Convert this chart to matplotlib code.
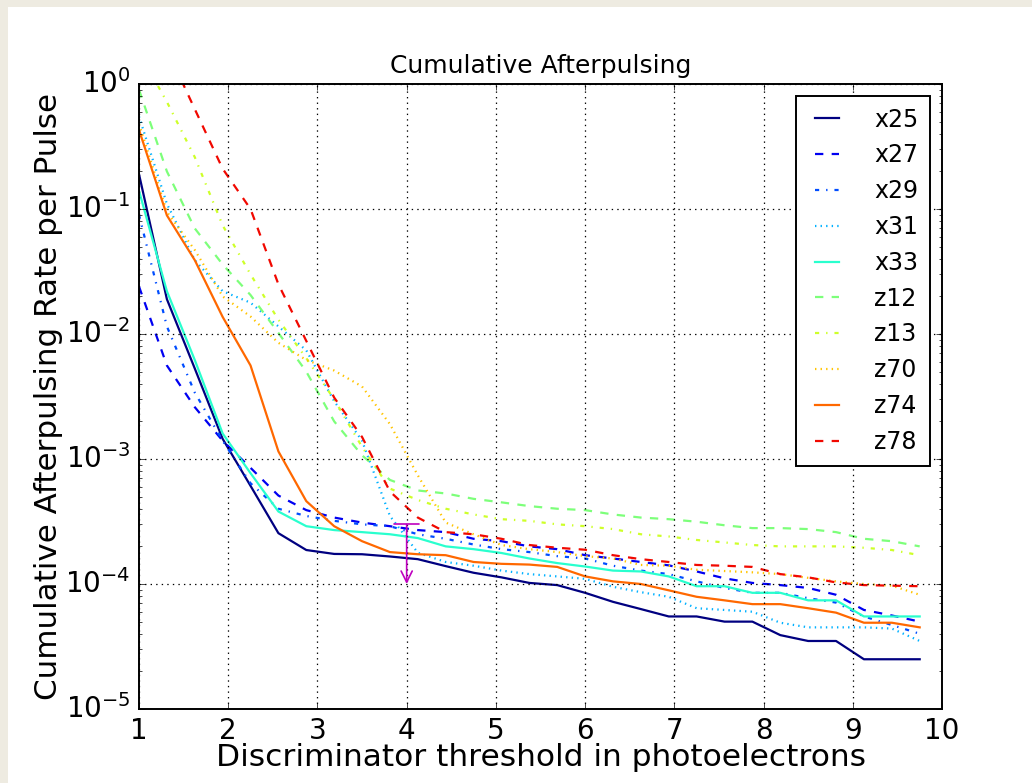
import matplotlib
matplotlib.use("Agg")
from matplotlib import pyplot as plt
from matplotlib.patches import Rectangle
from matplotlib import cm

# Soglie (fotoelettroni)
soglie = [1.0, 1.3125, 1.625, 1.9375, 2.25, 2.5625, 2.875, 3.1875, 3.5, 3.8125,
          4.125, 4.4375, 4.75, 5.0625, 5.375, 5.6875, 6.0, 6.3125, 6.625, 6.9375,
          7.25, 7.5625, 7.875, 8.1875, 8.5, 8.8125, 9.125, 9.4375, 9.75]

nomi = ["x25", "x27", "x29", "x31", "x33", "z12", "z13", "z70", "z74", "z78"]

x25 = [0.19, 0.019, 5.3e-3, 1.45e-3, 6.1e-4, 2.55e-4, 1.87e-4, 1.74e-4, 1.73e-4, 1.66e-4,
       1.58e-4, 1.39e-4, 1.23e-4, 1.13e-4, 1.02e-4, 9.8e-5, 8.5e-5, 7.2e-5, 6.3e-5, 5.5e-5,
       5.5e-5, 5.0e-5, 5.0e-5, 3.9e-5, 3.5e-5, 3.5e-5, 2.5e-5, 2.5e-5, 2.5e-5]
x27 = [0.024, 5.6e-3, 2.6e-3, 1.4e-3, 8.5e-4, 5.1e-4, 3.9e-4, 3.4e-4, 3.1e-4, 2.9e-4,
       2.7e-4, 2.6e-4, 2.3e-4, 2.2e-4, 2.0e-4, 1.9e-4, 1.7e-4, 1.6e-4, 1.5e-4, 1.41e-4,
       1.26e-4, 1.11e-4, 1.02e-4, 9.8e-5, 9.3e-5, 8.2e-5, 6.2e-5, 5.6e-5, 5.0e-5]
x29 = [0.09, 0.0115, 3.4e-3, 1.4e-3, 6.4e-4, 4.0e-4, 3.5e-4, 3.2e-4, 3.0e-4, 2.9e-4,
       2.5e-4, 2.3e-4, 2.07e-4, 1.9e-4, 1.8e-4, 1.67e-4, 1.6e-4, 1.4e-4, 1.28e-4, 1.2e-4,
       1.05e-4, 9.3e-5, 8.5e-5, 8.5e-5, 7.7e-5, 7.1e-5, 5.5e-5, 4.7e-5, 4.0e-5]
x31 = [0.55, 0.11, 0.039, 0.022, 0.0178, 0.0115, 7.4e-3, 2.9e-3, 1.4e-3, 3.5e-4,
       1.78e-4, 1.5e-4, 1.4e-4, 1.28e-4, 1.2e-4, 1.15e-4, 1.1e-4, 9.5e-5, 8.6e-5, 7.9e-5,
       6.4e-5, 6.2e-5, 6.0e-5, 4.9e-5, 4.5e-5, 4.5e-5, 4.5e-5, 4.4e-5, 3.5e-5]
x33 = [0.14, 0.022, 6.2e-3, 1.6e-3, 7.7e-4, 3.8e-4, 2.9e-4, 2.7e-4, 2.6e-4, 2.5e-4,
       2.33e-4, 2.0e-4, 1.9e-4, 1.77e-4, 1.6e-4, 1.47e-4, 1.38e-4, 1.28e-4, 1.26e-4, 1.15e-4,
       9.6e-5, 9.6e-5, 8.5e-5, 8.5e-5, 7.4e-5, 7.4e-5, 5.5e-5, 5.5e-5, 5.5e-5]
z12 = [0.9, 0.2, 0.07, 0.036, 0.0205, 0.0102, 5.0e-3, 2.0e-3, 1.07e-3, 6.8e-4,
       5.6e-4, 5.3e-4, 4.8e-4, 4.5e-4, 4.2e-4, 4.0e-4, 3.9e-4, 3.6e-4, 3.4e-4, 3.3e-4,
       3.15e-4, 2.95e-4, 2.8e-4, 2.8e-4, 2.75e-4, 2.6e-4, 2.3e-4, 2.2e-4, 2.0e-4]
z13 = [1.8, 0.72, 0.26, 0.074, 0.03, 0.013, 6.4e-3, 3.0e-3, 1.25e-3, 5.8e-4,
       4.7e-4, 4.0e-4, 3.6e-4, 3.3e-4, 3.2e-4, 3.0e-4, 2.9e-4, 2.75e-4, 2.5e-4, 2.4e-4,
       2.25e-4, 2.15e-4, 2.05e-4, 2.0e-4, 2.0e-4, 2.0e-4, 1.95e-4, 1.87e-4, 1.7e-4]
z70 = [0.48, 0.095, 0.047, 0.02, 0.0138, 8.5e-3, 6.2e-3, 5.1e-3, 3.8e-3, 1.9e-3,
       7.4e-4, 3.1e-4, 2.5e-4, 2.05e-4, 1.9e-4, 1.8e-4, 1.67e-4, 1.6e-4, 1.42e-4, 1.4e-4,
       1.3e-4, 1.27e-4, 1.24e-4, 1.2e-4, 1.12e-4, 1.05e-4, 1.0e-4, 9.7e-5, 8.2e-5]
z74 = [0.43, 0.089, 0.039, 0.0137, 5.6e-3, 1.15e-3, 4.6e-4, 2.9e-4, 2.2e-4, 1.8e-4,
       1.73e-4, 1.7e-4, 1.5e-4, 1.45e-4, 1.43e-4, 1.37e-4, 1.15e-4, 1.05e-4, 1.0e-4, 8.9e-5,
       7.9e-5, 7.4e-5, 6.9e-5, 6.9e-5, 6.4e-5, 5.9e-5, 4.9e-5, 4.9e-5, 4.5e-5]
z78 = [4.0, 1.9, 0.63, 0.21, 0.1, 0.025, 8.8e-3, 3.1e-3, 1.5e-3, 5.5e-4,
       3.4e-4, 2.6e-4, 2.5e-4, 2.3e-4, 2.05e-4, 1.95e-4, 1.88e-4, 1.7e-4, 1.58e-4, 1.5e-4,
       1.42e-4, 1.4e-4, 1.37e-4, 1.2e-4, 1.13e-4, 1.03e-4, 9.8e-5, 9.7e-5, 9.6e-5]

serie = [x25, x27, x29, x31, x33, z12, z13, z70, z74, z78]

# limite superiore indicato con la freccia
freccia_x = 4.0
freccia_da = 3e-4
freccia_a = 1e-4

plt.style.use("classic")
plt.rcParams["mathtext.fontset"] = "dejavusans"
plt.rcParams["font.family"] = "DejaVu Sans"

fig = plt.figure(figsize=(10.32, 7.83), dpi=100, facecolor="#eeebe1")
fig.patches.append(Rectangle((8 / 1032, 0), 1, 1 - 7 / 783, transform=fig.transFigure,
                             facecolor="white", edgecolor="none", zorder=-1))
ax = fig.add_axes([139 / 1032, 1 - 709 / 783, 803 / 1032, 625 / 783])

stili = ["-", "--", "-.", ":"]
for i, (nome, valori) in enumerate(zip(nomi, serie)):
    ax.plot(soglie, valori, linestyle=stili[i % 4], color=cm.jet(i / 10.0),
            linewidth=1.6, label=nome)

ax.annotate("", xy=(freccia_x, freccia_a), xytext=(freccia_x, freccia_da),
            arrowprops=dict(arrowstyle="]->,widthA=0.45,lengthA=0", color="m",
                            linewidth=1.2, shrinkA=0, shrinkB=0, mutation_scale=20))

ax.set_yscale("log")
ax.set_xlim(1, 10)
ax.set_ylim(1e-5, 1)
ax.set_xticks(range(1, 11))
ax.grid(True, color="k", linestyle=":", linewidth=0.9)
ax.tick_params(labelsize=20, pad=6)
for s in ax.spines.values():
    s.set_linewidth(1.4)

ax.set_title("Cumulative Afterpulsing", fontsize=18, pad=8)
ax.set_xlabel("Discriminator threshold in photoelectrons", fontsize=22.5, labelpad=-2)
ax.set_ylabel("Cumulative Afterpulsing Rate per Pulse", fontsize=22.3, labelpad=2)

leg = ax.legend(loc="upper right", fontsize=17, handlelength=1.6, handletextpad=1.2,
                labelspacing=0.5, borderpad=0.5, borderaxespad=0.5)
leg.get_frame().set_linewidth(1.4)

plt.savefig("out.png", dpi=100, facecolor=fig.get_facecolor())
